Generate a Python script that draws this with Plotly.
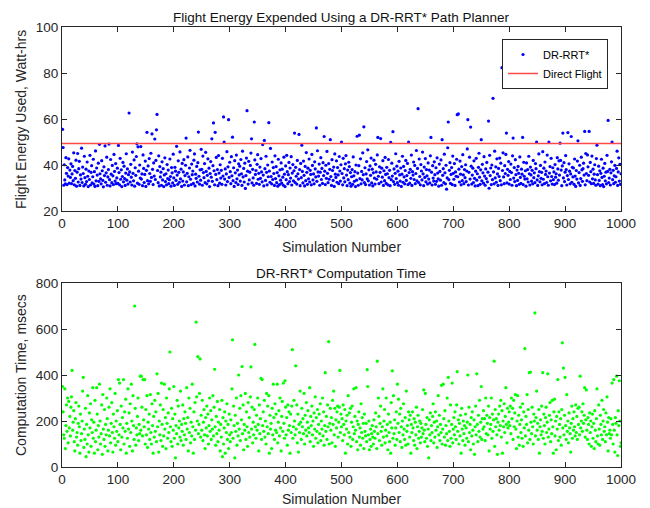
import plotly.graph_objects as go

# ---------------- data ----------------
energy = [
55.5, 47.6, 31.2, 40.1, 33.5, 31.8, 43.2, 36.4, 31.5, 38.9, 35.2, 42.7, 32.1, 37.8, 34.6, 40.5, 31.9, 36.1, 39.4, 33.2,
45.3, 31.4, 37.6, 34.2, 42.1, 30.8, 36.9, 45.0, 32.6, 38.4, 41.6, 31.1, 35.7, 33.9, 47.3, 32.4, 39.1, 36.3, 30.9, 43.8,
34.5, 31.6, 38.2, 32.8, 41.3, 35.1, 30.6, 37.4, 33.7, 44.2, 31.3, 36.8, 39.7, 32.2, 34.9, 42.5, 31.7, 37.1, 30.7, 46.1,
33.1, 38.7, 35.6, 31.0, 40.8, 32.9, 49.0, 36.2, 34.0, 31.8, 41.9, 37.5, 33.3, 30.5, 39.2, 35.4, 48.3, 32.5, 36.6, 43.4,
31.2, 34.8, 38.0, 49.1, 33.6, 30.9, 42.4, 36.0, 32.3, 39.8, 35.3, 31.5, 44.6, 37.2, 33.0, 40.6, 31.9, 34.4, 38.6, 32.0,
48.5, 36.7, 31.4, 42.9, 33.8, 37.9, 30.6, 35.0, 41.1, 32.7, 39.5, 34.1, 31.1, 36.5, 44.9, 33.4, 38.3, 31.7, 35.8, 62.6,
37.0, 32.6, 40.3, 34.7, 31.3, 45.6, 36.4, 33.1, 42.2, 30.8, 38.8, 35.5, 43.7, 49.2, 32.1, 47.9, 37.3, 31.6, 40.0, 34.3,
48.0, 33.9, 36.1, 31.0, 44.4, 38.5, 32.4, 35.9, 41.7, 30.7, 37.7, 54.2, 33.2, 39.6, 31.8, 42.8, 36.3, 32.9, 45.1, 34.6,
53.5, 38.1, 31.5, 40.9, 35.2, 51.3, 33.7, 42.0, 55.3, 62.0, 37.6, 32.3, 44.0, 30.9, 39.3, 34.8, 36.9, 31.2, 41.4, 33.5,
38.4, 30.6, 35.7, 43.1, 32.8, 36.2, 31.4, 40.2, 34.1, 37.8, 31.9, 33.6, 42.6, 35.0, 30.8, 38.9, 36.6, 32.2, 44.7, 34.4,
31.1, 39.0, 37.3, 33.3, 48.1, 35.6, 31.6, 41.8, 36.8, 32.5, 45.7, 34.0, 38.2, 30.7, 40.7, 33.0, 37.0, 42.3, 31.3, 35.4,
39.9, 51.7, 32.7, 36.4, 43.5, 31.0, 34.9, 38.7, 46.4, 33.8, 31.5, 40.4, 35.8, 37.4, 32.0, 42.1, 44.8, 30.9, 36.0, 34.2,
39.4, 32.6, 41.0, 54.3, 35.1, 31.7, 37.9, 33.4, 46.8, 38.1, 31.2, 43.9, 36.7, 34.5, 40.6, 32.3, 45.5, 37.2, 31.8, 35.5,
42.7, 33.1, 38.6, 30.6, 36.3, 41.5, 34.7, 51.4, 32.9, 39.7, 58.3, 37.5, 31.4, 54.2, 35.9, 43.3, 33.6, 38.0, 31.0, 44.1,
36.5, 32.1, 40.1, 34.3, 37.7, 31.6, 42.9, 35.2, 60.9, 50.0, 33.9, 38.3, 31.3, 36.1, 45.8, 32.8, 39.2, 59.7, 34.6, 41.2,
37.1, 31.9, 43.6, 35.3, 52.1, 33.2, 38.8, 30.7, 41.9, 36.6, 32.4, 44.3, 34.0, 37.8, 31.5, 40.5, 35.7, 39.5, 33.0, 42.4,
36.2, 31.1, 46.0, 34.8, 38.5, 32.6, 40.8, 29.8, 35.4, 43.0, 63.6, 37.3, 31.7, 41.6, 33.5, 36.9, 39.8, 45.2, 51.4, 32.2,
38.1, 34.4, 31.2, 58.7, 42.2, 35.9, 37.6, 32.0, 40.3, 44.5, 33.8, 36.4, 31.6, 39.1, 34.2, 42.8, 37.0, 32.7, 48.9, 35.6,
30.9, 50.7, 38.4, 33.3, 43.8, 36.8, 31.4, 40.0, 34.9, 58.4, 37.4, 32.5, 47.2, 35.0, 31.8, 41.3, 33.7, 38.9, 36.3, 31.1,
44.0, 34.1, 39.3, 32.3, 36.7, 30.8, 42.5, 35.3, 31.5, 37.9, 33.4, 40.9, 32.1, 38.2, 34.7, 31.2, 43.4, 36.0, 30.6, 39.6,
33.6, 44.2, 37.1, 31.9, 35.8, 41.1, 32.8, 38.7, 34.3, 43.6, 31.3, 36.5, 40.2, 33.1, 37.5, 53.9, 32.4, 39.0, 35.1, 31.7,
42.0, 36.2, 33.9, 53.3, 38.0, 31.0, 40.7, 34.5, 48.6, 37.2, 32.2, 41.7, 35.5, 30.9, 39.4, 33.2, 45.4, 36.8, 31.6, 38.6,
34.0, 42.6, 32.6, 37.7, 35.9, 31.4, 44.6, 39.8, 33.5, 36.1, 31.8, 41.4, 38.3, 34.8, 56.1, 32.9, 46.2, 37.0, 35.2, 40.4,
31.2, 36.9, 43.2, 33.7, 38.5, 32.0, 41.0, 35.4, 52.4, 37.3, 31.5, 39.9, 34.2, 45.9, 36.4, 32.3, 40.6, 33.8, 38.1, 51.0,
35.0, 31.1, 42.3, 37.6, 33.3, 39.1, 30.7, 44.8, 36.0, 34.6, 41.8, 32.5, 38.9, 35.7, 31.9, 43.7, 37.4, 33.0, 40.1, 50.0,
36.3, 31.4, 42.9, 34.4, 38.4, 32.7, 40.5, 44.1, 35.6, 31.0, 37.8, 33.6, 41.2, 39.3, 32.1, 36.7, 30.8, 34.9, 38.0, 31.6,
43.5, 35.3, 32.9, 37.1, 30.6, 40.0, 33.4, 52.5, 36.5, 31.2, 39.7, 53.0, 34.1, 42.7, 31.8, 37.2, 33.5, 45.3, 35.8, 56.6,
32.4, 38.8, 31.5, 36.1, 41.5, 34.0, 46.6, 33.1, 37.9, 31.3, 39.6, 35.5, 43.0, 32.2, 38.2, 30.9, 36.6, 42.1, 34.3, 31.7,
40.3, 37.0, 33.8, 44.4, 52.0, 35.1, 31.9, 39.2, 36.8, 51.5, 32.6, 38.6, 34.7, 41.9, 31.1, 37.5, 33.2, 43.3, 35.9, 32.0,
39.0, 36.2, 31.4, 42.4, 34.5, 37.7, 31.0, 49.8, 33.6, 40.8, 35.2, 54.5, 32.8, 38.3, 31.6, 36.4, 44.9, 34.1, 39.5, 32.3,
37.3, 31.2, 41.6, 35.7, 33.0, 38.7, 30.7, 36.0, 43.8, 32.5, 39.4, 34.8, 31.8, 37.6, 42.0, 33.3, 35.4, 40.7, 31.5, 50.0,
36.7, 32.1, 38.1, 34.2, 44.3, 31.1, 37.1, 35.6, 41.3, 33.7, 39.8, 31.9, 36.3, 46.3, 33.1, 38.5, 64.5, 32.4, 42.6, 35.0,
31.4, 40.2, 37.4, 33.5, 45.6, 36.1, 31.0, 39.1, 34.6, 42.8, 32.7, 38.0, 35.3, 31.7, 40.9, 33.9, 37.8, 32.2, 44.0, 52.0,
36.9, 31.3, 39.7, 34.3, 33.0, 41.4, 35.8, 31.6, 38.8, 32.9, 43.1, 36.5, 34.0, 30.8, 40.4, 37.2, 33.4, 42.2, 31.2, 51.0,
35.5, 38.4, 32.3, 44.7, 36.6, 31.8, 39.9, 29.5, 34.4, 47.5, 58.7, 33.6, 37.7, 41.0, 32.0, 35.9, 38.9, 31.5, 43.9, 36.4,
33.8, 40.6, 31.1, 37.0, 35.1, 42.5, 61.9, 34.9, 62.2, 38.2, 32.6, 41.7, 36.0, 31.4, 39.3, 33.2, 44.5, 35.7, 31.9, 38.0,
34.5, 40.1, 32.8, 37.4, 47.0, 59.7, 31.3, 36.8, 43.4, 33.9, 56.5, 39.5, 31.7, 35.6, 38.6, 32.4, 41.8, 34.2, 30.9, 37.3,
42.9, 33.4, 36.2, 31.0, 39.0, 45.1, 34.7, 31.6, 37.9, 51.0, 33.1, 40.3, 36.6, 32.1, 43.6, 35.2, 31.2, 38.3, 34.1, 41.1,
32.7, 36.9, 59.1, 29.9, 44.2, 35.4, 38.7, 31.5, 40.0, 33.6, 69.0, 37.0, 31.8, 46.0, 34.4, 39.2, 32.5, 42.7, 36.1, 31.1,
38.5, 35.0, 43.0, 33.2, 40.8, 31.4, 82.3, 37.6, 45.3, 34.8, 31.9, 39.7, 36.3, 44.6, 53.9, 32.2, 38.1, 35.5, 41.5, 31.7,
37.2, 33.7, 40.4, 36.7, 31.2, 44.0, 51.7, 34.3, 38.9, 32.8, 42.3, 35.8, 31.0, 37.8, 33.3, 39.4, 36.4, 31.6, 43.5, 34.6,
32.0, 38.2, 36.0, 52.0, 31.5, 41.2, 35.1, 33.9, 37.5, 30.8, 40.9, 34.0, 38.0, 32.6, 43.8, 36.2, 31.3, 39.1, 35.7, 33.0,
37.7, 31.8, 42.0, 34.5, 36.6, 32.3, 40.6, 38.4, 50.0, 33.5, 31.1, 35.3, 44.8, 37.1, 32.7, 39.8, 34.2, 36.8, 31.4, 45.8,
33.8, 38.6, 31.9, 41.3, 35.9, 37.4, 32.4, 44.3, 34.9, 31.2, 50.0, 36.5, 39.3, 33.1, 42.9, 35.0, 31.7, 38.8, 33.6, 37.0,
31.5, 40.2, 34.7, 36.2, 32.1, 43.2, 38.3, 33.4, 41.8, 35.6, 49.5, 42.0, 37.8, 31.0, 39.6, 53.9, 34.4, 41.0, 32.8, 36.9,
44.1, 38.0, 31.3, 35.4, 54.1, 33.7, 40.5, 37.3, 31.8, 36.1, 52.4, 32.5, 39.0, 34.8, 38.7, 31.6, 42.6, 35.2, 30.7, 37.6,
33.9, 41.7, 50.5, 32.2, 36.7, 39.9, 31.1, 34.1, 43.4, 37.9, 32.9, 38.4, 40.8, 35.6, 54.6, 31.4, 45.0, 36.3, 33.2, 44.4,
39.2, 35.5, 54.6, 32.6, 41.1, 37.1, 31.9, 43.9, 34.0, 38.2, 32.0, 36.0, 40.1, 33.5, 31.2, 42.8, 48.6, 35.8, 31.7, 39.5,
33.3, 37.5, 31.0, 36.4, 42.5, 34.6, 31.5, 38.6, 30.6, 35.1, 40.7, 33.1, 36.9, 31.8, 44.2, 37.2, 59.4, 32.4, 34.3, 38.1,
31.3, 36.6, 41.4, 50.0, 33.6, 37.7, 31.9, 35.3, 39.8, 32.5, 34.9, 38.5, 46.0, 31.1, 37.0, 43.1, 33.0, 40.3, 31.6, 36.2,
]

comp_time = [
350, 240, 140, 125, 340, 80, 180, 270, 155, 300, 105, 285, 170, 220, 135, 260, 305, 420, 160, 195,
245, 110, 70, 210, 280, 130, 150, 95, 190, 265, 175, 60, 230, 115, 145, 200, 330, 390, 85, 165,
120, 255, 45, 185, 100, 310, 140, 65, 235, 170, 275, 90, 205, 150, 345, 125, 195, 60, 290, 110,
160, 345, 230, 75, 180, 130, 360, 200, 100, 145, 270, 55, 315, 165, 120, 250, 90, 185, 140, 300,
210, 70, 160, 260, 135, 340, 105, 190, 280, 150, 65, 230, 175, 125, 320, 95, 200, 155, 245, 110,
380, 140, 365, 185, 75, 265, 130, 215, 170, 380, 100, 240, 155, 295, 60, 190, 125, 340, 165, 235,
90, 275, 150, 360, 200, 70, 310, 180, 120, 700, 255, 95, 170, 140, 220, 300, 115, 185, 145, 395,
160, 395, 260, 135, 380, 205, 175, 380, 100, 250, 140, 310, 85, 195, 165, 230, 120, 315, 150, 100,
275, 180, 60, 220, 130, 290, 155, 240, 110, 405, 175, 320, 65, 200, 140, 270, 115, 365, 185, 90,
250, 135, 360, 165, 215, 80, 300, 190, 125, 235, 150, 340, 500, 175, 110, 255, 90, 210, 160, 350,
125, 230, 40, 180, 145, 290, 100, 265, 170, 200, 130, 330, 115, 185, 155, 270, 95, 210, 140, 240,
190, 120, 345, 165, 215, 70, 300, 150, 255, 105, 195, 135, 360, 175, 60, 240, 120, 280, 160, 630,
305, 200, 480, 145, 185, 320, 470, 130, 225, 160, 290, 115, 195, 250, 140, 80, 215, 170, 265, 135,
230, 100, 180, 300, 155, 245, 120, 205, 165, 310, 135, 260, 425, 175, 95, 220, 145, 285, 110, 195,
160, 250, 70, 185, 130, 290, 45, 215, 100, 170, 240, 60, 200, 150, 275, 120, 185, 80, 230, 140,
110, 205, 150, 340, 553, 125, 265, 180, 40, 225, 155, 300, 95, 190, 135, 400, 165, 255, 115, 310,
205, 437, 145, 270, 75, 185, 160, 320, 120, 240, 175, 90, 280, 150, 215, 130, 305, 435, 165, 260,
105, 195, 140, 250, 533, 175, 125, 225, 160, 300, 185, 70, 270, 145, 210, 385, 120, 380, 180, 240,
155, 290, 130, 200, 100, 320, 175, 265, 145, 310, 60, 225, 165, 190, 80, 255, 140, 360, 215, 120,
275, 160, 230, 150, 360, 105, 195, 245, 135, 300, 170, 70, 220, 285, 155, 365, 190, 125, 375, 260,
140, 215, 95, 270, 160, 240, 180, 60, 230, 150, 265, 510, 125, 175, 290, 200, 140, 440, 165, 270,
105, 230, 65, 185, 150, 330, 195, 120, 255, 175, 210, 145, 320, 100, 225, 160, 280, 135, 195, 245,
170, 150, 345, 110, 220, 180, 265, 140, 200, 90, 235, 165, 305, 125, 215, 155, 250, 105, 185, 230,
145, 275, 115, 200, 165, 300, 135, 240, 95, 180, 410, 155, 220, 120, 270, 175, 545, 100, 190, 255,
160, 215, 105, 290, 185, 330, 140, 255, 90, 205, 170, 240, 265, 130, 195, 260, 420, 150, 230, 175,
210, 115, 270, 185, 140, 250, 60, 200, 165, 225, 100, 310, 150, 235, 130, 255, 90, 195, 265, 120,
175, 340, 145, 220, 160, 345, 110, 200, 75, 185, 240, 130, 170, 95, 275, 150, 215, 125, 190, 80,
230, 155, 135, 190, 110, 423, 350, 140, 200, 75, 120, 165, 90, 145, 180, 130, 100, 205, 155, 125,
235, 175, 80, 460, 145, 300, 220, 115, 190, 265, 155, 95, 175, 340, 130, 200, 250, 105, 160, 300,
135, 185, 75, 230, 150, 110, 195, 60, 280, 170, 418, 125, 310, 145, 205, 95, 170, 240, 120, 360,
190, 295, 150, 230, 110, 255, 175, 85, 200, 140, 275, 165, 120, 215, 95, 330, 155, 180, 100, 240,
205, 130, 225, 60, 185, 150, 240, 170, 115, 210, 95, 195, 140, 260, 80, 175, 225, 125, 155, 200,
105, 190, 130, 170, 250, 145, 335, 160, 110, 320, 185, 125, 215, 90, 165, 40, 205, 140, 235, 115,
180, 150, 220, 275, 105, 195, 130, 240, 160, 200, 85, 175, 310, 140, 225, 115, 185, 150, 355, 100,
165, 360, 210, 130, 245, 95, 180, 145, 300, 115, 390, 200, 155, 90, 270, 125, 185, 365, 105, 165,
215, 140, 240, 175, 120, 270, 415, 155, 205, 100, 190, 135, 225, 60, 255, 165, 115, 200, 145, 180,
95, 230, 170, 125, 195, 400, 110, 260, 150, 185, 75, 215, 135, 240, 160, 100, 205, 55, 175, 265,
140, 405, 185, 110, 225, 155, 290, 130, 195, 350, 120, 210, 165, 245, 175, 210, 115, 300, 145, 225,
190, 140, 265, 70, 215, 165, 185, 300, 125, 230, 155, 205, 460, 90, 250, 175, 210, 140, 55, 195,
230, 160, 265, 180, 290, 130, 245, 60, 200, 175, 275, 150, 220, 345, 185, 105, 255, 170, 195, 240,
180, 265, 145, 300, 210, 255, 120, 290, 175, 235, 315, 165, 80, 200, 310, 130, 225, 95, 185, 260,
150, 205, 125, 275, 90, 240, 170, 515, 135, 220, 185, 315, 105, 250, 160, 410, 120, 413, 195, 145,
260, 175, 100, 230, 200, 670, 135, 215, 330, 160, 190, 120, 250, 60, 175, 205, 140, 265, 155, 410,
125, 230, 180, 100, 215, 260, 150, 195, 405, 130, 165, 225, 280, 110, 205, 145, 290, 175, 60, 240,
295, 135, 200, 75, 220, 165, 380, 115, 240, 185, 130, 210, 95, 250, 540, 170, 430, 140, 225, 390,
180, 120, 315, 155, 200, 105, 235, 170, 145, 65, 190, 265, 125, 210, 160, 240, 175, 135, 270, 150,
220, 120, 255, 185, 260, 140, 395, 170, 200, 240, 155, 275, 190, 225, 345, 130, 205, 335, 160, 120,
215, 185, 100, 235, 150, 200, 90, 175, 230, 125, 190, 80, 245, 160, 110, 210, 340, 135, 100, 270,
165, 95, 225, 185, 140, 290, 120, 200, 250, 155, 175, 110, 235, 140, 305, 195, 70, 215, 145, 160,
125, 210, 140, 365, 185, 100, 380, 160, 65, 215, 190, 395, 140, 50, 245, 180, 375, 200, 90, 105,
]

sim_numbers = list(range(1, len(energy) + 1))
direct_flight_energy = 49.3
direct_flight_x = [0, 1000]

x_ticks = [0, 100, 200, 300, 400, 500, 600, 700, 800, 900, 1000]
energy_ticks = [20, 40, 60, 80, 100]
time_ticks = [0, 200, 400, 600, 800]

# ---------------- figure ----------------
OFF = 8                 # page body margin of the browser
W, H = 650 - OFF, 508 - OFF
FONT = "Liberation Sans, Arial, Helvetica, sans-serif"
AX = "#262626"

def px(xp):
    return (xp - OFF) / W

def py(yp):
    return (H - (yp - OFF)) / H

fig = go.Figure()

fig.add_trace(go.Scatter(
    x=sim_numbers, y=energy, mode="markers", name="DR-RRT*",
    marker=dict(color="#0000FF", size=3.2, line=dict(width=0)),
    xaxis="x", yaxis="y"))
fig.add_trace(go.Scatter(
    x=direct_flight_x, y=[direct_flight_energy] * len(direct_flight_x),
    mode="lines", name="Direct Flight",
    line=dict(color="#FF4A4A", width=1.5),
    xaxis="x", yaxis="y"))
fig.add_trace(go.Scatter(
    x=sim_numbers, y=comp_time, mode="markers", name="time",
    marker=dict(color="#00FF00", size=3.2, line=dict(width=0)),
    showlegend=False, xaxis="x2", yaxis="y2"))

xdom = [px(62), px(621)]
top_dom = [py(211), py(27)]
bot_dom = [py(467), py(283)]

axis_common = dict(
    showline=True, linecolor=AX, linewidth=1, mirror="ticks",
    ticks="inside", ticklen=5, tickcolor=AX, tickwidth=1,
    showgrid=False, zeroline=False, automargin=False,
    tickfont=dict(family=FONT, size=13.5, color=AX),
)

def ann(text, x, y, angle=0, size=14, color=AX):
    return dict(text=text, x=px(x), y=py(y), xref="paper", yref="paper",
                showarrow=False, xanchor="center", yanchor="middle",
                textangle=angle, font=dict(family=FONT, size=size, color=color))

fig.update_layout(
    width=W, height=H,
    margin=dict(l=0, r=0, t=0, b=0),
    paper_bgcolor="white", plot_bgcolor="white",
    font=dict(family=FONT, size=12, color=AX),
    showlegend=True,
    legend=dict(
        x=px(608), xanchor="right", y=py(39), yanchor="top",
        bgcolor="white", bordercolor=AX, borderwidth=1,
        font=dict(family=FONT, size=11, color="black"),
        tracegroupgap=0, itemsizing="trace", itemwidth=30,
    ),
    xaxis=dict(domain=xdom, range=[0, 1000], tickvals=x_ticks,
               anchor="y", **axis_common),
    yaxis=dict(domain=top_dom, range=[20, 100], tickvals=energy_ticks,
               anchor="x", **axis_common),
    xaxis2=dict(domain=xdom, range=[0, 1000], tickvals=x_ticks,
                anchor="y2", **axis_common),
    yaxis2=dict(domain=bot_dom, range=[0, 800], tickvals=time_ticks,
                anchor="x2", **axis_common),
    annotations=[
        ann("Flight Energy Expended Using a DR-RRT* Path Planner", 341, 17, size=13.5, color="#111111"),
        ann("DR-RRT* Computation Time", 341, 273, size=13.5, color="#111111"),
        ann("Simulation Number", 341, 247),
        ann("Simulation Number", 341, 499),
        ann("Flight Energy Used, Watt-hrs", 21, 120, angle=-90),
        ann("Computation Time, msecs", 21, 375, angle=-90),
    ],
)

fig.write_html("out.html")
